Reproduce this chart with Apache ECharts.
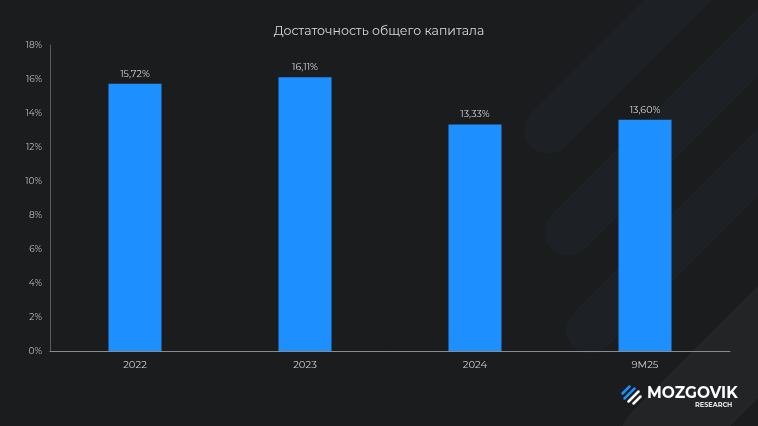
<!DOCTYPE html>
<html><head><meta charset="utf-8">
<script src="https://cdn.jsdelivr.net/npm/echarts@6/dist/echarts.min.js"></script>
<style>html,body{margin:0;padding:0;background:#1b1c1e;}#c{width:758px;height:426px;}</style>
</head><body><div id="c"></div>
<script>
const categories = ['2022', '2023', '2024', '9M25'];
const values = [15.72, 16.11, 13.33, 13.60];
const valueLabels = ['15,72%', '16,11%', '13,33%', '13,60%'];
const yTicks = [0, 2, 4, 6, 8, 10, 12, 14, 16, 18];

const chart = echarts.init(document.getElementById('c'));
const F = 'Montserrat, Inter, "Noto Sans", sans-serif';
function band(x1, y1, x2, y2, w, c) {
  return { type: 'line', z: -10, silent: true, shape: { x1, y1, x2, y2 },
    style: { stroke: c, lineWidth: w, lineCap: 'round' } };
}
chart.setOption({
  backgroundColor: '#1b1c1e',
  animation: false,
  title: { text: 'Достаточность общего капитала', left: 'center', top: 20,
    textStyle: { color: '#d8d8d8', fontSize: 12.5, fontWeight: 'normal', fontFamily: F } },
  graphic: [
    band(660, 440, 820, 280, 80, '#232426'),
    band(548, 130, 700, -22, 48, '#1d2024'),
    band(568, 232, 780, 20, 48, '#1d2024'),
    band(590, 330, 780, 140, 48, '#1d2024'),
    { type: 'text', left: 647, top: 385, style: { text: 'MOZGOVIK', fill: '#ffffff', font: 'bold 15.5px ' + F } },
    { type: 'text', left: 695, top: 402, style: { text: 'RESEARCH', fill: '#e0e0e0', font: 'bold 6.5px ' + F } },
    { type: 'group', left: 620, top: 384, children: [
      { type: 'line', shape: { x1: 2, y1: 8, x2: 9, y2: 1 }, style: { stroke: '#1e8fff', lineWidth: 2.5, lineCap: 'round' } },
      { type: 'line', shape: { x1: 4, y1: 13, x2: 14, y2: 3 }, style: { stroke: '#1e8fff', lineWidth: 2.5, lineCap: 'round' } },
      { type: 'line', shape: { x1: 8, y1: 16, x2: 18, y2: 6 }, style: { stroke: '#ffffff', lineWidth: 2.5, lineCap: 'round' } },
      { type: 'line', shape: { x1: 13, y1: 18, x2: 20, y2: 11 }, style: { stroke: '#ffffff', lineWidth: 2.5, lineCap: 'round' } }
    ]}
  ],
  grid: { left: 50, right: 28, top: 45, bottom: 75, containLabel: false },
  xAxis: {
    type: 'category', data: categories,
    axisLine: { lineStyle: { color: '#8a8a8a', width: 1 } },
    axisTick: { show: false },
    axisLabel: { color: '#cfcfcf', fontSize: 10, fontFamily: F, margin: 9 }
  },
  yAxis: {
    type: 'value', min: 0, max: 18, interval: 2,
    axisLine: { show: true, lineStyle: { color: '#5a5a5a' } },
    axisTick: { show: false },
    splitLine: { show: false },
    axisLabel: { color: '#bdbdbd', fontSize: 9, fontFamily: F, margin: 8,
      formatter: v => yTicks.includes(v) ? v + '%' : '' }
  },
  series: [{
    type: 'bar', data: values, barWidth: 53,
    itemStyle: { color: '#1e8fff' },
    label: { show: true, position: 'top', distance: 5, color: '#d8d8d8', fontSize: 9.5, fontFamily: F,
      formatter: p => valueLabels[p.dataIndex] }
  }]
});
</script></body></html>
